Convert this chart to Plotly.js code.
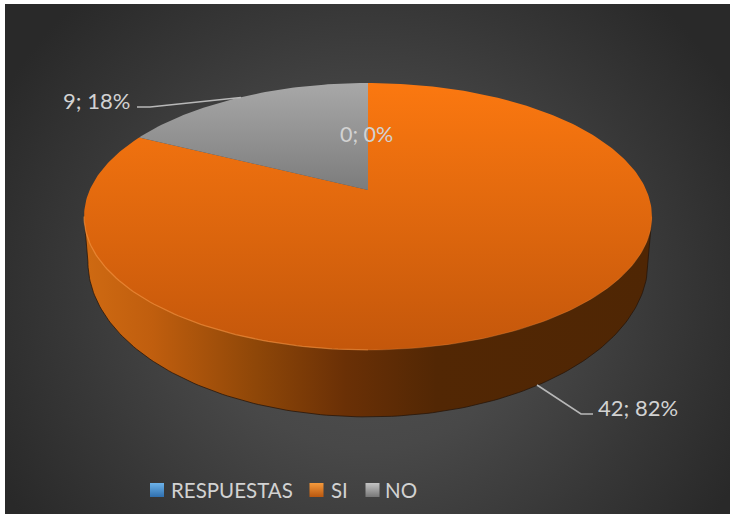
<!DOCTYPE html>
<html>
<head>
<meta charset="utf-8">
<script src="https://cdn.plot.ly/plotly-3.0.1.min.js"></script>
<style>
  html, body { margin: 0; padding: 0; background: #fff; overflow: hidden; }
  #frame {
    position: absolute; left: 5px; top: 4px; width: 725px; height: 510px;
    background: radial-gradient(ellipse 58% 78% at 50% 56%, #525252 0%, #484848 40%, #373737 72%, #292929 100%);
  }
  #chart { position: absolute; left: 0; top: 0; width: 730px; height: 514px; }
</style>
</head>
<body>
<div id="frame"></div>
<div id="chart"></div>
<script>
// Survey answers
const categories = ['RESPUESTAS', 'SI', 'NO'];
const answers = [0, 42, 9];
const swatchTop = ['#6db3ea', '#f59a3c', '#c4c4c4'];
const swatchBottom = ['#2f6fae', '#b9570f', '#777777'];

// Tilted disc: a circle seen in perspective, with its hub at (hubX, hubY)
const hubX = 368, perspective = 0.1985;
const topFace = { hubY: 190, a: 278.3, b: 128.2 };
const baseRim = { hubY: 231, a: 274.5, b: 149 };

function project(disc, deg) {
  const t = deg * Math.PI / 180, X = Math.sin(t), Z = Math.cos(t), w = 1 + perspective * Z;
  return [hubX + disc.a * X / w, disc.hubY - disc.b * Z / w];
}
function arc(disc, from, to) {
  const n = Math.max(2, Math.ceil(Math.abs(to - from))), pts = [];
  for (let i = 0; i <= n; i++) pts.push(project(disc, from + (to - from) * i / n));
  return pts;
}
const xs = p => p.map(q => q[0]), ys = p => p.map(q => q[1]);

const total = answers.reduce((s, v) => s + v, 0);
const sweep = answers.map(v => v / total * 360);
const startAngle = sweep.map((_, i) => sweep.slice(0, i).reduce((s, v) => s + v, 0));
const labelText = answers.map(v => v + '; ' + Math.round(v / total * 100) + '%');

const noAxis = { visible: false, fixedrange: true };
const traces = [];

// Front wall of the disc, between the two silhouette tangents
const tangent = Math.acos(-perspective) * 180 / Math.PI;
const wall = [project(topFace, tangent)].concat(arc(baseRim, tangent, 360 - tangent), [project(topFace, 360 - tangent)]);
traces.push({
  x: xs(wall), y: ys(wall), mode: 'lines', fill: 'toself', hoverinfo: 'skip', showlegend: false,
  line: { color: 'rgba(38,20,8,0.75)', width: 1 },
  fillgradient: { type: 'horizontal', colorscale: [
    [0, '#cf6a12'], [0.12, '#c05e0e'], [0.3, '#8f4708'], [0.46, '#6a3006'], [0.62, '#522704'], [1, '#4f2604']
  ] }
});

// Top face slices
const faceFill = [
  ['#ff7a10', '#ff7a10'],
  ['#fb7810', '#c4570b'],
  ['#a8a8a8', '#7c7c7c']
];
categories.forEach((name, i) => {
  if (answers[i] === 0) return;
  const sector = [[hubX, topFace.hubY]].concat(arc(topFace, startAngle[i], startAngle[i] + sweep[i]), [[hubX, topFace.hubY]]);
  traces.push({
    x: xs(sector), y: ys(sector), name: name, mode: 'lines', fill: 'toself', showlegend: false,
    line: { width: 0 }, hovertemplate: name + ': ' + labelText[i] + '<extra></extra>',
    fillgradient: { type: 'vertical', colorscale: [[0, faceFill[i][1]], [1, faceFill[i][0]]] }
  });
});

// Light catching the front rim of the face, stronger on the left
const rimLeft = arc(topFace, 180, 360 - tangent), rimRight = arc(topFace, tangent, 180);
traces.push({
  x: xs(rimLeft), y: ys(rimLeft), mode: 'lines', hoverinfo: 'skip', showlegend: false,
  line: { color: 'rgba(245,150,70,0.6)', width: 1.3 }
});
traces.push({
  x: xs(rimRight), y: ys(rimRight), mode: 'lines', hoverinfo: 'skip', showlegend: false,
  line: { color: 'rgba(240,150,80,0.28)', width: 1 }
});

// Leader lines
const leaderColor = '#b8b8b8';
const leaderNo = { x: [137, 150, 241], y: [107, 107, 97.5] };
const leaderSi = { x: [537, 581, 593], y: [385, 414, 414] };
[leaderNo, leaderSi].forEach(l => traces.push({
  x: l.x, y: l.y, mode: 'lines', hoverinfo: 'skip', showlegend: false,
  line: { color: leaderColor, width: 1.6 }
}));

// Legend swatches
const swatchX = [157, 316.5, 372.5], legendY = 490;
traces.push({
  x: swatchX, y: swatchX.map(() => legendY), mode: 'markers', hoverinfo: 'skip', showlegend: false,
  marker: { symbol: 'square', size: 14, color: swatchTop, line: { width: 0 },
            gradient: { type: 'vertical', color: swatchBottom } }
});

const font = 'Lato, "Open Sans", sans-serif';
const note = (x, y, text, anchor, size) => ({
  x: x, y: y, text: text, xref: 'x', yref: 'y', showarrow: false, xanchor: anchor, yanchor: 'middle',
  font: { family: font, size: size, color: '#d2d2d2' }
});
const annotations = [
  note(366, 134, labelText[0], 'center', 21.5),
  note(132, 100, labelText[2], 'right', 22),
  note(596, 407, labelText[1], 'left', 22),
  note(169, 490, categories[0], 'left', 20.5),
  note(329, 490, categories[1], 'left', 20.5),
  note(383, 490, categories[2], 'left', 20.5)
];

Plotly.newPlot('chart', traces, {
  width: 730, height: 514,
  margin: { l: 0, r: 0, t: 0, b: 0 },
  paper_bgcolor: 'rgba(0,0,0,0)', plot_bgcolor: 'rgba(0,0,0,0)',
  xaxis: Object.assign({}, noAxis, { range: [0, 730] }),
  yaxis: Object.assign({}, noAxis, { range: [514, 0] }),
  annotations: annotations,
  showlegend: false
}, { displayModeBar: false, staticPlot: true });
</script>
</body>
</html>
